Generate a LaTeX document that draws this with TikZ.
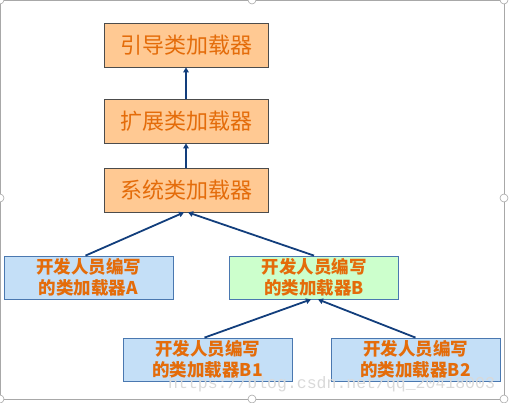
\documentclass[tikz,border=0pt]{standalone}
\usepackage{fontspec}
\newfontfamily\cjk{Noto Sans CJK SC}
\newfontfamily\wmfont{Liberation Mono}
\usetikzlibrary{arrows.meta}
\definecolor{orfill}{HTML}{FFC993}
\definecolor{ortext}{HTML}{E46C0A}
\definecolor{bluefill}{HTML}{C4DFF7}
\definecolor{blueedge}{HTML}{4A78B0}
\definecolor{greenfill}{HTML}{CCFFCC}
\definecolor{arrowc}{HTML}{123E7C}
\definecolor{frameg}{HTML}{A8A8A8}
\tikzset{
  x=1pt,y=-1pt,
  topbox/.style={draw=black!70,line width=0.8pt,fill=orfill,minimum width=164pt,minimum height=44pt,inner sep=0pt,font=\cjk\fontsize{22}{24}\selectfont,text=ortext},
  devbox/.style={draw=blueedge,line width=0.8pt,fill=bluefill,minimum width=169pt,minimum height=43pt,inner sep=0pt,align=center,font=\cjk\bfseries\fontsize{17.5}{21}\selectfont,text=ortext},
  link/.style={draw=arrowc,line width=1.8pt,-{Triangle[length=5pt,width=5.5pt]}},
  handle/.style={circle,draw=frameg,fill=white,line width=0.6pt,minimum size=8pt,inner sep=0pt}
}
\begin{document}
\begin{tikzpicture}
\useasboundingbox (0,0) rectangle (509,402);
\draw[frameg,line width=0.6pt] (0,0) rectangle (504,399);
\foreach \p in {(252,0),(504,0),(0,198),(504,198),(252,399),(504,399),(0,399),(0,0)} \node[handle] at \p {};
\node[topbox] (boot) at (186,45) {引导类加载器};
\node[topbox] (ext) at (186,121) {扩展类加载器};
\node[topbox] (sys) at (186,190) {系统类加载器};
\node[devbox] (a) at (88.5,277.5) {开发人员编写\\的类加载器A};
\node[devbox,fill=greenfill] (b) at (314,277.5) {开发人员编写\\的类加载器B};
\node[devbox] (b1) at (207.5,359.5) {开发人员编写\\的类加载器B1};
\node[devbox] (b2) at (415.5,359.5) {开发人员编写\\的类加载器B2};
\node[anchor=west,text=black!15,font=\wmfont\fontsize{16.5}{18}\selectfont,inner sep=0pt] (wm) at (168,384) {https://blog.csdn.net/qq\_20418003};
\draw[link] ([xshift=-3pt]a.north) -- ([xshift=-2pt]sys.south);
\draw[link] (b.north) -- ([xshift=2pt]sys.south);
\draw[link] ([xshift=-3pt]b1.north) -- ([xshift=-3pt]b.south);
\draw[link] (b2.north) -- ([xshift=4pt]b.south);
\draw[link] (ext.north) -- (boot.south);
\draw[link] (sys.north) -- (ext.south);
\end{tikzpicture}
\end{document}
